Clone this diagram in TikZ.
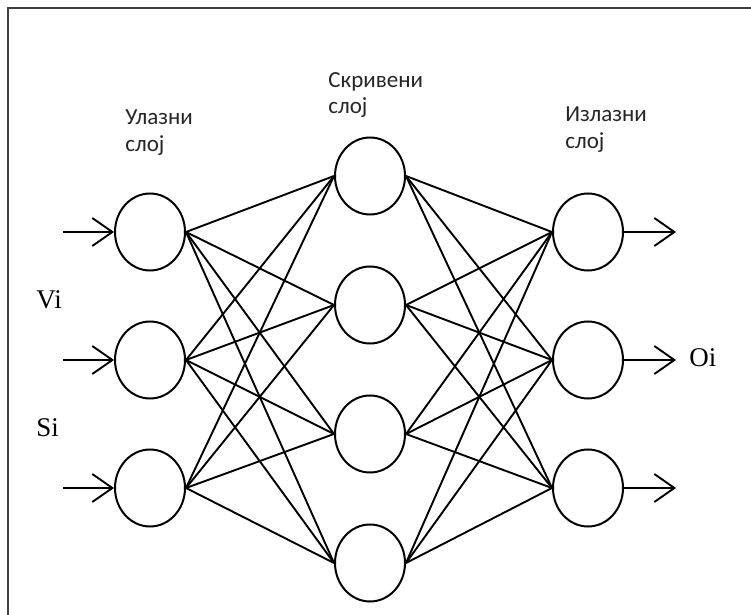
\documentclass[tikz,border=0pt]{standalone}
\usepackage{fontspec}
\setmainfont{Liberation Serif}
\newfontfamily\lblfont{Carlito}
\usetikzlibrary{shapes.geometric,arrows.meta}
\tikzset{
  neuron/.style={draw=black, ellipse, line width=1pt, minimum width=35pt, minimum height=38.5pt, inner sep=0pt},
  link/.style={draw=black, line width=0.95pt},
  sig/.style={draw=black, line width=0.95pt, -{Straight Barb[length=10pt,width=14pt,line width=0.95pt]}},
  lbl/.style={anchor=base west, inner sep=0pt, font=\lblfont\fontsize{11.5pt}{13.5pt}\selectfont, text=black!85},
  var/.style={anchor=base west, inner sep=0pt, font=\fontsize{13.5pt}{15pt}\selectfont},
  frame/.style={draw=black!75, line width=1pt}
}
\begin{document}
\begin{tikzpicture}[x=0.5pt,y=-0.5pt]
\useasboundingbox (0,0) rectangle (751,615);
\draw[frame] (751,8) -- (8,8) -- (8,615);
% neurons
\node[neuron] (i1) at (150,232) {};
\node[neuron] (i2) at (150,360) {};
\node[neuron] (i3) at (150,488) {};
\node[neuron] (h1) at (370,176) {};
\node[neuron] (h2) at (370,305) {};
\node[neuron] (h3) at (370,434) {};
\node[neuron] (h4) at (370,563) {};
\node[neuron] (o1) at (588,232) {};
\node[neuron] (o2) at (588,360) {};
\node[neuron] (o3) at (588,488) {};
% connections
\foreach \i in {1,2,3}{
  \foreach \h in {1,2,3,4}{
    \draw[link] (i\i.east) -- (h\h.west);
    \draw[link] (h\h.east) -- (o\i.west);
  }
}
% input / output arrows
\coordinate (in1) at (63,232);
\coordinate (in2) at (63,360);
\coordinate (in3) at (63,488);
\coordinate (out1) at (676,232);
\coordinate (out2) at (676,360);
\coordinate (out3) at (676,488);
\foreach \k in {1,2,3}{
  \draw[sig] (in\k) -- (i\k.west);
  \draw[sig] (o\k.east) -- (out\k);
}
% labels
\node[lbl] (li1) at (125,125) {Улазни};
\node[lbl] (li2) at (125,152) {слој};
\node[lbl] (lh1) at (328,88) {Скривени};
\node[lbl] (lh2) at (328,114) {слој};
\node[lbl] (lo1) at (565,122) {Излазни};
\node[lbl] (lo2) at (565,149) {слој};
\node[var] (vi) at (36,308) {Vi};
\node[var] (si) at (36,437) {Si};
\node[var] (oi) at (689,366) {Oi};
\end{tikzpicture}
\end{document}
